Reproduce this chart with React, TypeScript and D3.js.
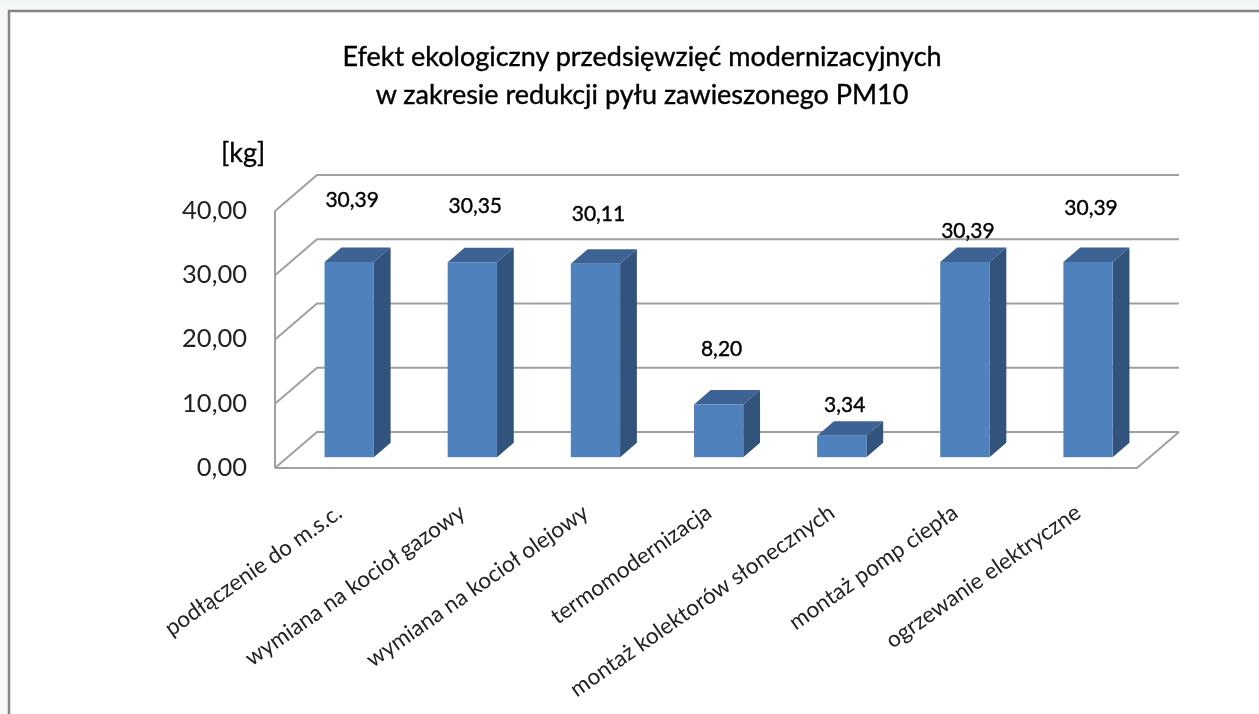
import React from 'react';
import * as d3 from 'd3';

const categories = [
  'podłączenie do m.s.c.',
  'wymiana na kocioł gazowy',
  'wymiana na kocioł olejowy',
  'termomodernizacja',
  'montaż kolektorów słonecznych',
  'montaż pomp ciepła',
  'ogrzewanie elektryczne',
];
const values = [30.39, 30.35, 30.11, 8.2, 3.34, 30.39, 30.39];
const yTicks = [0, 10, 20, 30, 40];
const titleLines = [
  'Efekt ekologiczny przedsięwzięć modernizacyjnych',
  'w zakresie redukcji pyłu zawieszonego PM10',
];
const unitLabel = '[kg]';

// labels were dragged by hand in the original, so each has its own lift above the bar
const labelLift = [62, 57, 50, 56, 31, 31, 54];

const FONT = 'Lato, "Open Sans", sans-serif';
const W = 1259;
const H = 714;

// plot box of the 3D chart
const front = { left: 275, right: 1137, bottom: 468, top: 211 };
const depth = { dx: 42, dy: -36 };
const barDepth = 0.4; // share of the floor depth taken by a bar
const barInset = 0.3; // where the bar's front face sits on the floor

const fmt = (v: number) => d3.format('.2f')(v).replace('.', ',');

const App = () => {
  const x = d3.scaleBand<string>()
    .domain(categories)
    .range([front.left, front.right])
    .paddingInner(0.6)
    .paddingOuter(0.3);
  const y = d3.scaleLinear().domain([0, 40]).range([front.bottom, front.top]);
  const step = x.step();

  const backX = front.left + depth.dx;
  const backRight = front.right + depth.dx;
  const bx = depth.dx * barInset;
  const by = depth.dy * barInset;
  const ddx = depth.dx * barDepth;
  const ddy = depth.dy * barDepth;
  const line = d3.line();

  return (
    <svg
      width={W}
      height={H}
      viewBox={`0 0 ${W} ${H}`}
      style={{ position: 'absolute', left: 0, top: 0, display: 'block', background: '#fff' }}
    >
      <defs>
        <linearGradient id="topFade" x1="0" y1="0" x2="0" y2="1">
          <stop offset="0" stopColor="#f1f5f6" />
          <stop offset="1" stopColor="#f8fafa" />
        </linearGradient>
        <filter id="soft" x="-5%" y="-5%" width="110%" height="110%">
          <feGaussianBlur stdDeviation="0.45" />
        </filter>
      </defs>

      <rect x={0} y={0} width={W} height={10} fill="url(#topFade)" />
      <rect x={0} y={10} width={8} height={H - 10} fill="#f7f9f9" />
      <path d={line([[9, H], [9, 11], [W, 11]]) ?? ''} fill="none" stroke="#858585" strokeWidth={2.5} />

      <g filter="url(#soft)">
        {/* walls and floor */}
        <g fill="none" stroke="#a0a0a0" strokeWidth={2}>
          {yTicks.map(t => (
            <path
              key={t}
              d={line([
                [front.left, y(t)],
                [backX, y(t) + depth.dy],
                [backRight, y(t) + depth.dy],
              ]) ?? ''}
            />
          ))}
          <path d={line([[front.left, y(0)], [front.left, y(40)]]) ?? ''} />
          <path
            d={line([
              [front.left, y(0)],
              [front.right, y(0)],
              [backRight, y(0) + depth.dy],
            ]) ?? ''}
          />
        </g>

        {/* bars */}
        {categories.map((c, i) => {
          const x0 = (x(c) ?? 0) + bx;
          const x1 = x0 + x.bandwidth();
          const y0 = y(0) + by;
          const y1 = y(values[i]) + by;
          return (
            <g key={c}>
              <path
                d={line([[x0, y1], [x0 + ddx, y1 + ddy], [x1 + ddx, y1 + ddy], [x1, y1]]) + 'Z'}
                fill="#3c6494"
              />
              <path
                d={line([[x1, y1], [x1 + ddx, y1 + ddy], [x1 + ddx, y0 + ddy], [x1, y0]]) + 'Z'}
                fill="#31527c"
              />
              <rect x={x0} y={y1} width={x.bandwidth()} height={y0 - y1} fill="#4f81bd" />
            </g>
          );
        })}

        {/* value labels */}
        {categories.map((c, i) => (
          <text
            key={c}
            x={(x(c) ?? 0) + bx + x.bandwidth() / 2 + 3}
            y={y(values[i]) + by - labelLift[i]}
            dy="0.35em"
            textAnchor="middle"
            fontFamily={FONT}
            fontSize={21}
            stroke="#000"
            strokeWidth={0.4}
            fill="#000"
          >
            {fmt(values[i])}
          </text>
        ))}

        {/* y axis */}
        {yTicks.map(t => (
          <text
            key={t}
            x={front.left - 28}
            y={y(t) - 1}
            dy="0.35em"
            textAnchor="end"
            fontFamily={FONT}
            fontSize={25.5}
            fill="#222"
          >
            {fmt(t)}
          </text>
        ))}
        <text x={221} y={162} fontFamily={FONT} fontSize={27} stroke="#000" strokeWidth={0.3} fill="#000">{unitLabel}</text>

        {/* title */}
        {titleLines.map((t, i) => (
          <text
            key={t}
            x={642}
            y={66 + i * 38}
            textAnchor="middle"
            fontFamily={FONT}
            fontSize={27}
            stroke="#000"
            strokeWidth={0.4}
            fill="#000"
          >
            {t}
          </text>
        ))}

        {/* category labels */}
        {categories.map(c => (
          <text
            key={c}
            transform={`translate(${(x(c) ?? 0) + step * 0.12 + 17},${front.bottom + 48}) rotate(-35)`}
            textAnchor="end"
            fontFamily={FONT}
            fontSize={22.5}
            fill="#222"
          >
            {c}
          </text>
        ))}
      </g>
    </svg>
  );
};

export default App;
